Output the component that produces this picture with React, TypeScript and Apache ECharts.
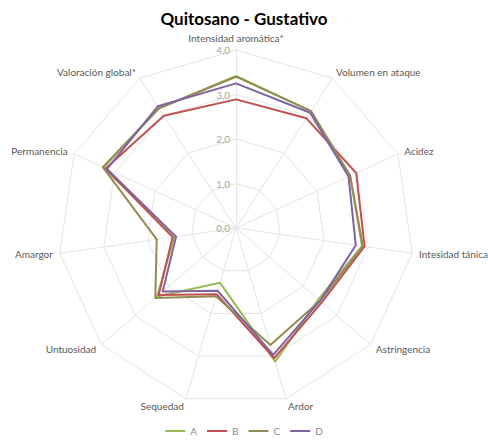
import React, { useEffect, useRef } from "react";
import * as echarts from "echarts";

const categories = [
  "Intensidad aromática*",
  "Volumen en ataque",
  "Acidez",
  "Intesidad tánica",
  "Astringencia",
  "Ardor",
  "Sequedad",
  "Untuosidad",
  "Amargor",
  "Permanencia",
  "Valoración global*",
];

const seriesNames = ["A", "B", "C", "D"];
const valuesA = [3.42, 3.12, 2.82, 2.86, 2.45, 3.13, 1.28, 2.35, 1.4, 3.27, 3.2];
const valuesB = [2.89, 2.93, 2.97, 2.92, 2.55, 3.05, 1.55, 2.3, 1.44, 3.22, 3.0];
const valuesC = [3.4, 3.12, 2.82, 2.88, 2.5, 2.74, 1.6, 2.4, 1.8, 3.29, 3.2];
const valuesD = [3.25, 3.08, 2.78, 2.72, 2.5, 2.97, 1.47, 2.18, 1.36, 3.19, 3.25];
const colors = ["#9BBB59", "#C0504D", "#948A54", "#8064A2"];
const axisMax = 4;
const tickInterval = 1;

// ECharts lays radar indicators out counter-clockwise; the reference is clockwise
const order = [0, ...categories.slice(1).map((_, i) => categories.length - 1 - i)];
const reorder = (arr: any[]) => order.map((i) => arr[i]);

export default function App() {
  const ref = useRef<HTMLDivElement>(null);
  useEffect(() => {
    if (!ref.current) return;
    const chart = echarts.init(ref.current, null, { renderer: "svg" });
    const font = "Lato, 'Open Sans', sans-serif";
    const all = [valuesA, valuesB, valuesC, valuesD];
    chart.setOption({
      animation: false,
      backgroundColor: "#ffffff",
      title: {
        text: "Quitosano - Gustativo",
        left: "center",
        top: 5,
        textStyle: { fontFamily: font, fontSize: 17, fontWeight: "bold", color: "#000000" },
      },
      legend: {
        bottom: 3,
        left: "center",
        data: seriesNames,
        icon: "rect",
        itemWidth: 20,
        itemHeight: 2,
        itemGap: 10,
        textStyle: { fontFamily: font, fontSize: 10, color: "#8C8C8C" },
      },
      radar: {
        center: [236, 228],
        radius: 178,
        startAngle: 90,
        shape: "polygon",
        splitNumber: 4,
        nameGap: 7,
        axisName: { fontFamily: font, fontSize: 10, color: "#595959" },
        indicator: reorder(categories).map((n) => ({ name: n, min: 0, max: axisMax })),
        axisLine: { lineStyle: { color: "#E5E5E5", width: 1 } },
        splitLine: { lineStyle: { color: "#E5E5E5", width: 1 } },
        splitArea: { show: false },
        axisLabel: { show: false },
      },
      polar: { center: [236, 228], radius: 178 },
      angleAxis: {
        show: false,
        startAngle: 90,
        min: 0,
        max: 360,
      },
      radiusAxis: {
        min: 0,
        max: axisMax,
        interval: tickInterval,
        axisLine: { show: false },
        axisTick: { show: false },
        splitLine: { show: false },
        axisLabel: {
          show: true,
          color: "#A6A6A6",
          fontFamily: font,
          fontSize: 10,
          margin: 6,
          formatter: (v: number) => v.toFixed(1).replace(".", ","),
        },
      },
      series: [
        {
          type: "radar",
          symbol: "none",
          data: all.map((vals, i) => ({
            name: seriesNames[i],
            value: reorder(vals),
            lineStyle: { color: colors[i], width: 2 },
            itemStyle: { color: colors[i] },
          })),
        },
      ],
    });
    return () => chart.dispose();
  }, []);
  return (
    <div
      ref={ref}
      style={{ position: "absolute", left: 0, top: 0, width: 488, height: 444 }}
    />
  );
}
